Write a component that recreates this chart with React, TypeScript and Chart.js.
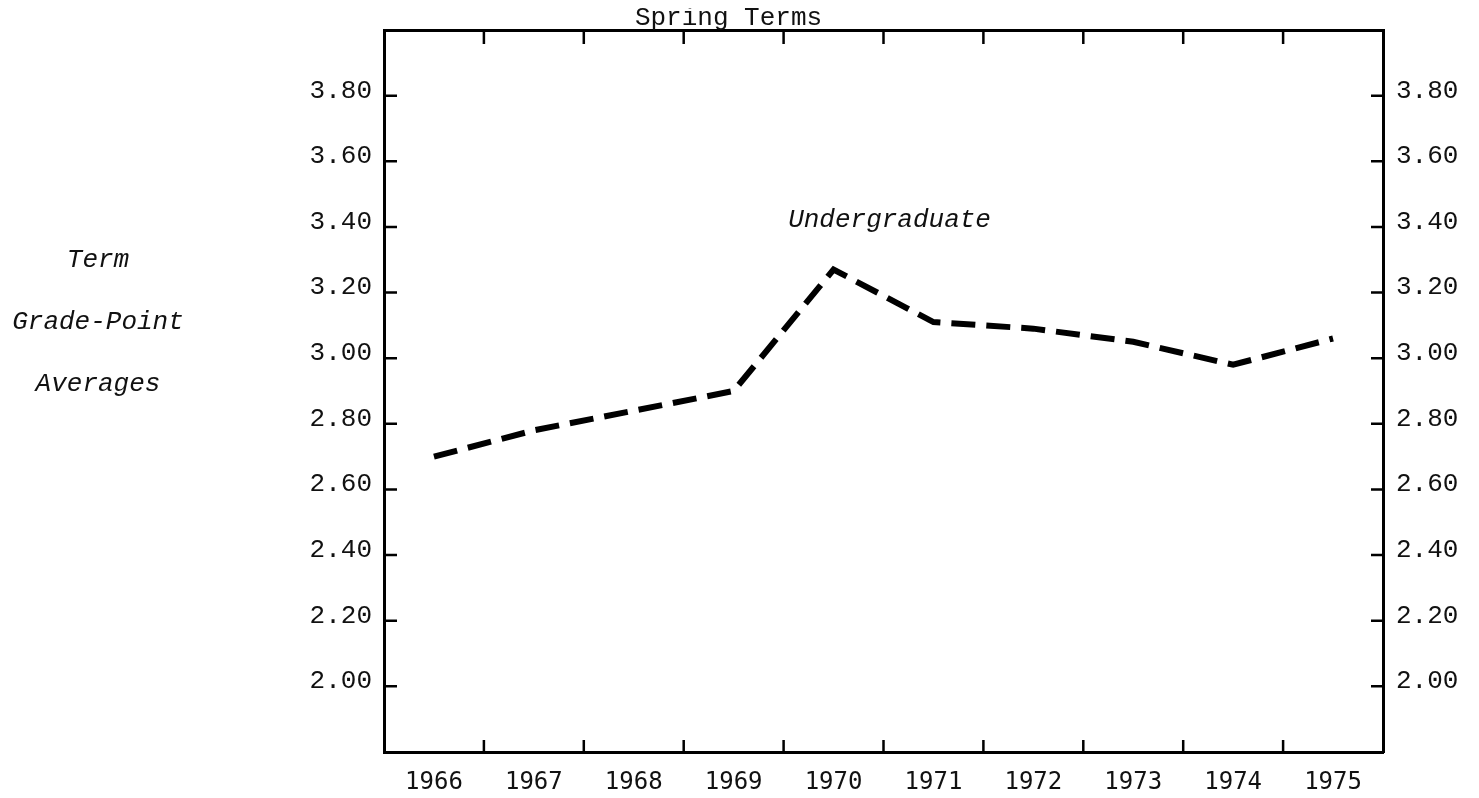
import React, { useEffect, useRef } from "react";
import { Chart, registerables } from "chart.js";

Chart.register(...registerables);

const years = ["1966", "1967", "1968", "1969", "1970", "1971", "1972", "1973", "1974", "1975"];
const undergraduateGPA = [2.7, 2.78, 2.84, 2.9, 3.27, 3.11, 3.09, 3.05, 2.98, 3.06];
const yMin = 1.8;
const yMax = 4.0;
const yStep = 0.2;
const titleText = "Spring Terms";
const seriesLabel = "Undergraduate";
const yTitleLines = ["Term", "Grade-Point", "Averages"];

const MONO = "'Liberation Mono', 'DejaVu Sans Mono', monospace";
const SANSMONO = "'DejaVu Sans Mono', 'Liberation Mono', monospace";

const isEdge = (v: number) => Math.abs(v - yMin) < 1e-6 || Math.abs(v - yMax) < 1e-6;

const inwardTicks = {
  id: "inwardTicks",
  afterDraw(chart: any) {
    const { ctx, chartArea } = chart;
    const xs = chart.scales.x;
    const ys = chart.scales.y;
    ctx.save();
    ctx.strokeStyle = "#000";
    ctx.lineWidth = 2.5;
    ctx.lineCap = "butt";
    for (let i = 0; i < years.length - 1; i++) {
      const px = (xs.getPixelForValue(i) + xs.getPixelForValue(i + 1)) / 2;
      ctx.beginPath();
      ctx.moveTo(px, chartArea.bottom);
      ctx.lineTo(px, chartArea.bottom - 12);
      ctx.moveTo(px, chartArea.top);
      ctx.lineTo(px, chartArea.top + 14);
      ctx.stroke();
    }
    ys.ticks.forEach((t: any) => {
      if (isEdge(t.value)) return;
      const py = ys.getPixelForValue(t.value);
      ctx.beginPath();
      ctx.moveTo(chartArea.left, py);
      ctx.lineTo(chartArea.left + 13, py);
      ctx.moveTo(chartArea.right, py);
      ctx.lineTo(chartArea.right - 12, py);
      ctx.stroke();
    });
    ctx.restore();
  },
};

const annotations = {
  id: "annotations",
  afterDraw(chart: any) {
    const { ctx, chartArea } = chart;
    const xs = chart.scales.x;
    const ys = chart.scales.y;
    ctx.save();
    ctx.fillStyle = "#111";
    ctx.textAlign = "center";
    ctx.textBaseline = "middle";
    ctx.font = `26px ${MONO}`;
    ctx.fillText(titleText, chart.width / 2 - 11, 10);
    ctx.font = `italic 26px ${MONO}`;
    ctx.fillText(seriesLabel, xs.getPixelForValue(4) + 56, ys.getPixelForValue(3.42));
    const cx = chartArea.left - 286;
    const ys0 = [ys.getPixelForValue(3.3), ys.getPixelForValue(3.11), ys.getPixelForValue(2.92)];
    yTitleLines.forEach((line, i) => {
      ctx.fillText(line, cx, ys0[i]);
    });
    ctx.restore();
  },
};

export default function App() {
  const ref = useRef<HTMLCanvasElement | null>(null);

  useEffect(() => {
    if (!ref.current) return;
    const yTicks = {
      stepSize: yStep,
      color: "#111",
      font: { family: MONO, size: 26 },
      padding: 12,
      labelOffset: -5,
      callback: (v: any) => (isEdge(Number(v)) ? "" : Number(v).toFixed(2)),
    };
    const noPad = (s: any) => {
      s.paddingTop = 0;
      s.paddingBottom = 0;
    };
    const chart = new Chart(ref.current, {
      type: "line",
      data: {
        labels: years,
        datasets: [
          {
            label: seriesLabel,
            data: undergraduateGPA,
            borderColor: "#000",
            borderWidth: 6,
            borderDash: [24, 11],
            borderCapStyle: "butt",
            pointRadius: 0,
            tension: 0,
            fill: false,
          },
        ],
      },
      plugins: [inwardTicks, annotations],
      options: {
        responsive: false,
        animation: false,
        layout: { padding: 0 },
        plugins: { legend: { display: false }, tooltip: { enabled: false }, title: { display: false } },
        scales: {
          x: {
            type: "category",
            position: "bottom",
            offset: true,
            grid: { display: true, drawOnChartArea: false, drawTicks: false, offset: true, color: "rgba(0,0,0,0)" },
            border: { display: true, color: "#000", width: 3 },
            ticks: { color: "#111", font: { family: SANSMONO, size: 24 }, padding: 16, maxRotation: 0, autoSkip: false },
            afterFit: (s: any) => {
              s.height = 46;
              s.paddingLeft = 0;
              s.paddingRight = 0;
            },
          },
          x2: {
            type: "category",
            labels: years,
            position: "top",
            offset: true,
            grid: { display: true, drawOnChartArea: false, drawTicks: false, offset: true, color: "rgba(0,0,0,0)" },
            border: { display: true, color: "#000", width: 3 },
            ticks: { display: false },
            afterFit: (s: any) => {
              s.height = 22;
            },
          },
          y: {
            type: "linear",
            position: "left",
            min: yMin,
            max: yMax,
            grid: { display: true, drawOnChartArea: false, drawTicks: false, color: "rgba(0,0,0,0)" },
            border: { display: true, color: "#000", width: 3 },
            ticks: yTicks,
            afterFit: (s: any) => {
              s.width = 376;
              noPad(s);
            },
          },
          y2: {
            type: "linear",
            position: "right",
            min: yMin,
            max: yMax,
            grid: { display: true, drawOnChartArea: false, drawTicks: false, color: "rgba(0,0,0,0)" },
            border: { display: true, color: "#000", width: 3 },
            ticks: { ...yTicks, padding: 13 },
            afterFit: (s: any) => {
              s.width = 88;
              noPad(s);
            },
          },
        },
      },
    } as any);
    return () => chart.destroy();
  }, []);

  return (
    <canvas ref={ref} width={1463} height={790} style={{ display: "block", marginBottom: -8 }} />
  );
}
